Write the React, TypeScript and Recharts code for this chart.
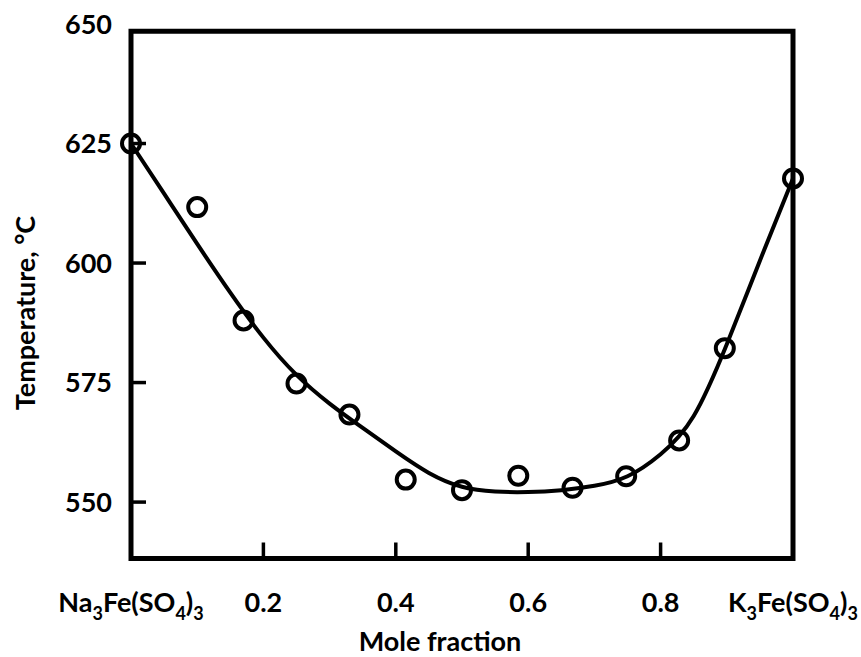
import React from 'react';
import { ComposedChart, Line, Scatter, XAxis, YAxis, ReferenceArea } from 'recharts';

// measured points
const moleFraction = [0, 0.1, 0.17, 0.25, 0.33, 0.415, 0.5, 0.585, 0.667, 0.748, 0.828, 0.897, 1.0];
const temperature = [625, 611.7, 588.0, 574.8, 568.3, 554.7, 552.5, 555.5, 553.0, 555.4, 562.9, 582.2, 617.7];

// fitted curve
const fitX = [0, 0.05, 0.1, 0.15, 0.2, 0.25, 0.3, 0.35, 0.4, 0.45, 0.5, 0.55, 0.6, 0.65, 0.7, 0.75, 0.8, 0.85, 0.9, 0.95, 1.0];
const fitT = [625, 614.5, 604.0, 593.8, 584.4, 576.6, 570.6, 565.5, 560.6, 556.1, 553.2, 552.2, 552.1, 552.5, 553.4, 555.4, 560.0, 568.0, 583.0, 600.5, 617.7];

const xTicks = [0, 0.2, 0.4, 0.6, 0.8, 1];
const yTicks = [550, 575, 600, 625, 650];
const yDomain = [538.2, 650];
const frameTop = 648.5;

const leftCompound: [string, boolean][] = [['Na', false], ['3', true], ['Fe(SO', false], ['4', true], [')', false], ['3', true]];
const rightCompound: [string, boolean][] = [['K', false], ['3', true], ['Fe(SO', false], ['4', true], [')', false], ['3', true]];

const xTitle = 'Mole fraction';
const yTitle = 'Temperature, °C';

const pointData = moleFraction.map((x, i) => ({ x, t: temperature[i] }));
const fitData = fitX.map((x, i) => ({ x, t: fitT[i] }));

const FONT = 'Lato, "Open Sans", sans-serif';
const FS = 27;

const renderParts = (parts: [string, boolean][]) => {
  const out: React.ReactNode[] = [];
  let sub = false;
  parts.forEach(([s, isSub], i) => {
    let dy = 0;
    if (isSub && !sub) dy = 8;
    if (!isSub && sub) dy = -8;
    sub = isSub;
    out.push(
      <tspan key={i} dy={dy} fontSize={isSub ? 18 : FS}>
        {s}
      </tspan>
    );
  });
  return out;
};

const XTick = (props: any) => {
  const { x, y, payload } = props;
  const v = payload.value;
  let label: React.ReactNode;
  if (v === 0) label = renderParts(leftCompound);
  else if (v === 1) label = renderParts(rightCompound);
  else label = v.toFixed(1);
  const showMark = v !== 0 && v !== 1;
  return (
    <g>
      {showMark && <line x1={x} x2={x} y1={y} y2={y - 16} stroke="#000" strokeWidth={3.5} />}
      <text x={x} y={y + 53.5} textAnchor="middle" fontFamily={FONT} fontWeight={700} fontSize={FS} fill="#000">
        {label}
      </text>
    </g>
  );
};

const YTick = (props: any) => {
  const { x, y, payload } = props;
  const v = payload.value;
  const showMark = v !== 650;
  return (
    <g>
      {showMark && <line x1={x} x2={x + 15} y1={y} y2={y} stroke="#000" strokeWidth={3.5} />}
      <text x={x - 19} y={y + 9.5} textAnchor="end" fontFamily={FONT} fontWeight={700} fontSize={FS} fill="#000">
        {v}
      </text>
    </g>
  );
};

const Ring = (props: any) => {
  const { cx, cy } = props;
  return <circle cx={cx} cy={cy} r={9} fill="none" stroke="#000" strokeWidth={4} />;
};

export default function App() {
  return (
    <div style={{ position: 'absolute', left: 0, top: 0, background: '#fff' }}>
      <ComposedChart width={861} height={657} margin={{ top: 24, right: 68, bottom: 0, left: 0 }}>
        <XAxis
          type="number"
          dataKey="x"
          domain={[0, 1]}
          ticks={xTicks}
          interval={0}
          height={98.5}
          tickSize={0}
          tickMargin={0}
          axisLine={false}
          tickLine={false}
          tick={<XTick />}
          label={() => (
            <text x={440} y={651} textAnchor="middle" fontFamily={FONT} fontWeight={700} fontSize={FS} fill="#000">
              {xTitle}
            </text>
          )}
        />
        <YAxis
          type="number"
          dataKey="t"
          domain={yDomain}
          ticks={yTicks}
          interval={0}
          width={131}
          tickSize={0}
          tickMargin={0}
          axisLine={false}
          tickLine={false}
          tick={<YTick />}
          label={() => (
            <text
              x={35}
              y={313}
              transform="rotate(-90, 35, 313)"
              textAnchor="middle"
              fontFamily={FONT}
              fontWeight={700}
              fontSize={FS}
              fill="#000"
            >
              {yTitle}
            </text>
          )}
        />
        <ReferenceArea x1={0} x2={1} y1={yDomain[0]} y2={frameTop} fill="none" fillOpacity={0} stroke="#000" strokeWidth={5} />
        <Line
          data={fitData}
          dataKey="t"
          type="natural"
          stroke="#000"
          strokeWidth={4}
          dot={false}
          activeDot={false}
          isAnimationActive={false}
        />
        <Scatter data={pointData} dataKey="t" shape={<Ring />} isAnimationActive={false} />
      </ComposedChart>
    </div>
  );
}
